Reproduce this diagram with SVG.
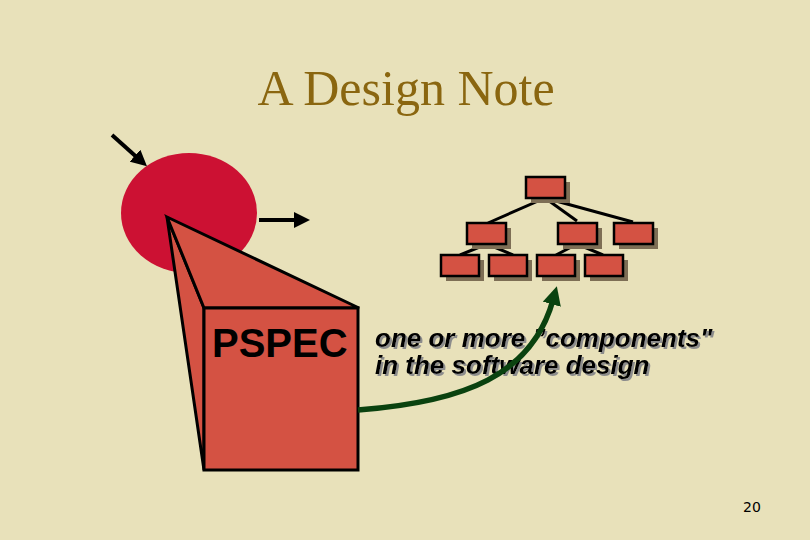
<svg xmlns="http://www.w3.org/2000/svg" width="810" height="540" viewBox="0 0 810 540">
<defs>
<style>
.bx{fill:#D45243;stroke:#000;stroke-width:2.5}
.sh{fill:#7D6E55}
.tl{stroke:#000;stroke-width:3;fill:none}
.pf{fill:#D45243;stroke:#000;stroke-width:3;stroke-linejoin:miter}
.it{font-family:"Liberation Sans",Arial,sans-serif;font-weight:bold;font-style:italic;font-size:26px}
</style>
<filter id="ds" x="-5%" y="-20%" width="110%" height="140%"><feDropShadow dx="2" dy="2" stdDeviation="0.4" flood-color="#8C8C8C" flood-opacity="1"/></filter>
<marker id="ah" markerWidth="4" markerHeight="4" refX="2" refY="2" orient="auto" markerUnits="strokeWidth"><path d="M0,0 L4,2 L0,4 z" fill="#000"/></marker>
<marker id="gh" markerWidth="3.4" markerHeight="3.4" refX="0.8" refY="1.7" orient="auto" markerUnits="strokeWidth"><path d="M0,0 L3.4,1.7 L0,3.4 z" fill="#0A420F"/></marker>
</defs>
<rect width="810" height="540" fill="#E8E1BA"/>
<text x="406" y="105" text-anchor="middle" font-family="Liberation Serif,serif" font-size="50" fill="#8A6610">A Design Note</text>

<g id="bubble">
<ellipse cx="189" cy="213" rx="68" ry="60" fill="#CC1133"/>
</g>
<g id="pspec">
<polygon class="pf" points="167,217 204,308 204,470"/>
<polygon class="pf" points="167,217 359,308 204,308"/>
<rect class="pf" x="204" y="308" width="154" height="162"/>
<text x="212" y="357" font-family="Liberation Sans,Arial,sans-serif" font-weight="bold" font-size="40" fill="#000">PSPEC</text>
</g>

<g id="tree">
<g class="tl">
<line x1="545" y1="198" x2="488" y2="223"/>
<line x1="545" y1="198" x2="577" y2="221"/>
<line x1="545" y1="198" x2="633" y2="222"/>
<line x1="487" y1="244" x2="460" y2="255"/>
<line x1="487" y1="244" x2="513" y2="255"/>
<line x1="577" y1="244" x2="556" y2="255"/>
<line x1="577" y1="244" x2="603" y2="255"/>
</g>
<g id="n0"><rect class="sh" x="531" y="182" width="39" height="21"/><rect class="bx" x="526" y="177" width="39" height="21"/></g>
<g id="n1"><rect class="sh" x="472" y="228" width="39" height="21"/><rect class="bx" x="467" y="223" width="39" height="21"/></g>
<g id="n2"><rect class="sh" x="563" y="228" width="39" height="21"/><rect class="bx" x="558" y="223" width="39" height="21"/></g>
<g id="n3"><rect class="sh" x="619" y="228" width="39" height="21"/><rect class="bx" x="614" y="223" width="39" height="21"/></g>
<g id="n4"><rect class="sh" x="446" y="260" width="38" height="21"/><rect class="bx" x="441" y="255" width="38" height="21"/></g>
<g id="n5"><rect class="sh" x="494" y="260" width="38" height="21"/><rect class="bx" x="489" y="255" width="38" height="21"/></g>
<g id="n6"><rect class="sh" x="542" y="260" width="38" height="21"/><rect class="bx" x="537" y="255" width="38" height="21"/></g>
<g id="n7"><rect class="sh" x="590" y="260" width="38" height="21"/><rect class="bx" x="585" y="255" width="38" height="21"/></g>
</g>

<g id="label" filter="url(#ds)">
<text class="it" fill="#000" x="375" y="347">one or more ”components"</text>
<text class="it" fill="#000" x="375" y="374">in the software design</text>
</g>
<g id="connectors">
<line x1="112" y1="135" x2="141" y2="161" stroke="#000" stroke-width="4" marker-end="url(#ah)"/>
<line x1="259" y1="220" x2="302" y2="220" stroke="#000" stroke-width="4" marker-end="url(#ah)"/>
<path d="M358,410 C465,402 532,375 553,300" fill="none" stroke="#0A420F" stroke-width="5.5" marker-end="url(#gh)"/>
</g>
<text x="752" y="512" text-anchor="middle" font-family="DejaVu Sans,sans-serif" font-size="14" fill="#000">20</text>
</svg>
